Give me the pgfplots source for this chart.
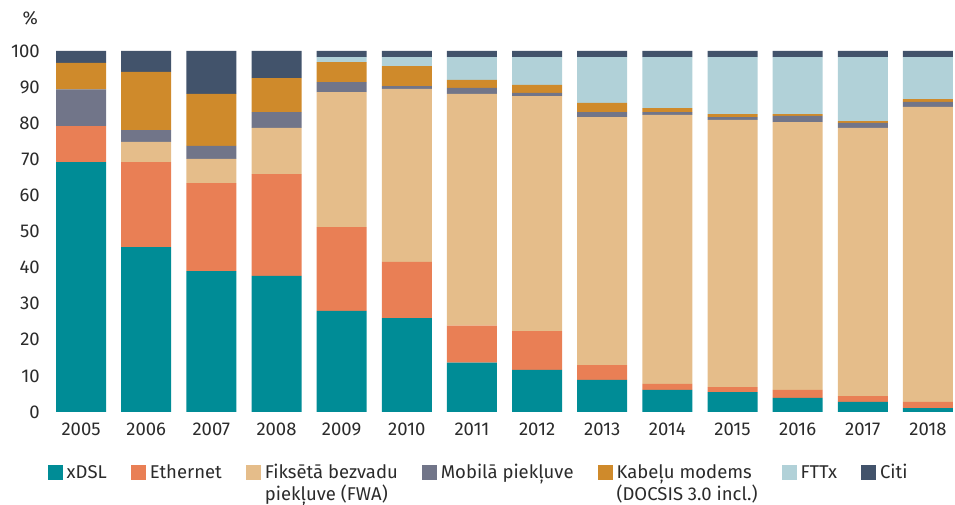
\documentclass[border=0pt]{standalone}
\usepackage{fontspec}
\setmainfont{Fira Sans}
\usepackage{pgfplots}
\usepackage{pgfplotstable}
\pgfplotsset{compat=1.18}

\definecolor{cxdsl}{HTML}{008C96}
\definecolor{ceth}{HTML}{E97F55}
\definecolor{cfwa}{HTML}{E5BD8A}
\definecolor{cmob}{HTML}{717589}
\definecolor{ccab}{HTML}{CF8A2B}
\definecolor{cfttx}{HTML}{B1D1D8}
\definecolor{cciti}{HTML}{42536B}
\definecolor{ctext}{HTML}{2B2B2B}

% shares in %, 2005..2018
\pgfplotstableread{
idx xdsl eth  fwa  mob  cab  fttx citi
0   69.2 10.0 0.0  10.2 7.3  0.0  3.3
1   45.7 23.5 5.6  3.3  16.1 0.0  5.8
2   39.0 24.4 6.7  3.6  14.4 0.0  11.9
3   37.7 28.2 12.8 4.4  9.4  0.0  7.5
4   28.0 23.2 37.4 2.8  5.5  1.4  1.7
5   26.0 15.6 47.9 0.8  5.5  2.5  1.7
6   13.7 10.2 64.2 1.7  2.2  6.3  1.7
7   11.7 10.7 65.1 0.9  2.2  7.7  1.7
8   8.9  4.1  68.7 1.4  2.5  12.7 1.7
9   6.1  1.7  74.5 0.8  1.1  14.1 1.7
10  5.5  1.4  74.0 0.8  0.8  15.8 1.7
11  3.9  2.2  74.2 1.7  0.5  15.8 1.7
12  2.8  1.6  74.3 1.4  0.5  17.7 1.7
13  1.1  1.7  81.7 1.4  0.8  11.6 1.7
}\shares

\newcommand{\twoline}[2]{\begin{tabular}[t]{@{}l@{}}#1\\#2\end{tabular}}

\begin{document}
\begin{tikzpicture}
\useasboundingbox (0pt,0pt) rectangle (955pt,505pt);
\begin{axis}[
    at={(42pt,93pt)}, anchor=south west,
    scale only axis,
    width=912pt, height=361pt,
    ybar stacked, bar width=50pt,
    xmin=-0.6, xmax=13.4, ymin=0, ymax=100,
    xtick={0,...,13},
    xticklabels={2005,2006,2007,2008,2009,2010,2011,2012,2013,2014,2015,2016,2017,2018},
    ytick={0,10,...,100},
    axis line style={draw=none},
    major tick length=0pt,
    tick label style={font=\fontsize{18.5}{22}\selectfont, text=ctext},
    xticklabel style={yshift=-7pt},
    yticklabel style={inner xsep=2pt},
    /pgf/number format/assume math mode=true,
    legend columns=7,
    legend style={at={(axis description cs:0.006,-0.135)}, anchor=north west,
        draw=none, fill=none, inner sep=0pt,
        font=\fontsize{18.5}{22}\selectfont, text=ctext,
        nodes={anchor=base west},
        /tikz/every odd column/.append style={column sep=2pt},
        /tikz/every even column/.append style={column sep=22pt}},
    legend image code/.code={\fill[#1] (0pt,-2pt) rectangle (15pt,13pt);},
]
\addplot[fill=cxdsl, draw=none] table[x=idx, y=xdsl] {\shares};
\addlegendentry{xDSL}
\addplot[fill=ceth, draw=none] table[x=idx, y=eth] {\shares};
\addlegendentry{Ethernet}
\addplot[fill=cfwa, draw=none] table[x=idx, y=fwa] {\shares};
\addlegendentry{\twoline{Fiksētā bezvadu}{piekļuve (FWA)}}
\addplot[fill=cmob, draw=none] table[x=idx, y=mob] {\shares};
\addlegendentry{Mobilā piekļuve}
\addplot[fill=ccab, draw=none] table[x=idx, y=cab] {\shares};
\addlegendentry{\twoline{Kabeļu modems}{(DOCSIS 3.0 incl.)}}
\addplot[fill=cfttx, draw=none] table[x=idx, y=fttx] {\shares};
\addlegendentry{FTTx}
\addplot[fill=cciti, draw=none] table[x=idx, y=citi] {\shares};
\addlegendentry{Citi}
\end{axis}
\node[anchor=base east, inner sep=0pt, font=\fontsize{18.5}{22}\selectfont, text=ctext] at (38pt,480pt) {\%};
\end{tikzpicture}
\end{document}
